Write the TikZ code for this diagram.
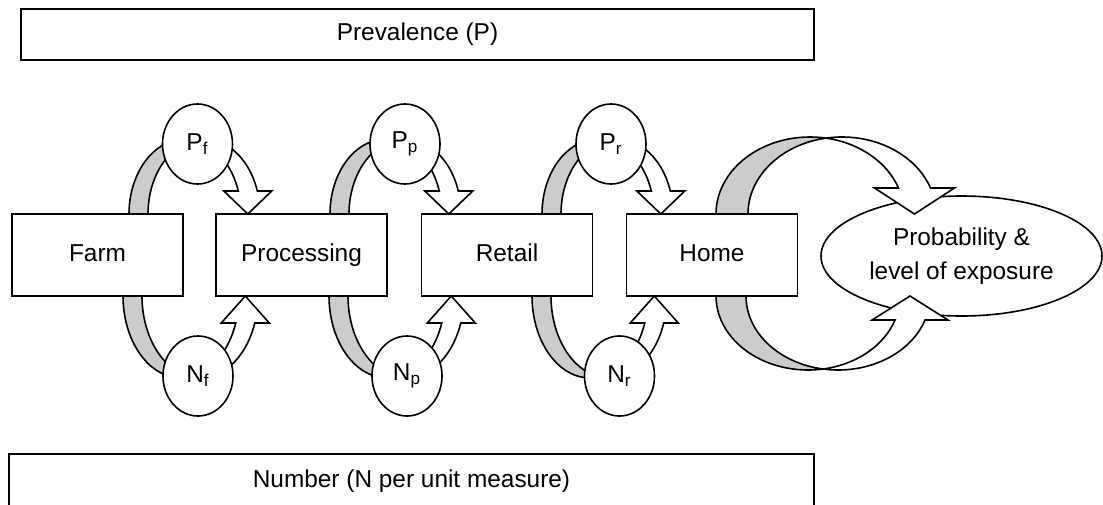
\documentclass[tikz,border=0pt]{standalone}
\usepackage{fontspec}
\setmainfont{Liberation Sans}
\usetikzlibrary{shapes.geometric}
\definecolor{bkgray}{RGB}{204,204,204}
% #1 left x, #2 base y, #3 direction (-1 up, 1 down), #4 rx, #5 ry, #6 band width, #7 head depth, #8 head half width
\newcommand\crescentarrow[8]{%
  \begin{scope}[shift={(#1,#2)}, yscale=#3]
    \pgfmathsetmacro\crA{acos(#6/(2*#4))}
    \pgfmathsetmacro\crB{180-\crA}
    \pgfmathsetmacro\crE{asin(#7/#5)}
    \pgfmathsetmacro\crM{#4+#6/2+#4*cos(\crE)}
    \pgfmathsetmacro\crY{#5*sin(\crA)}
    \path[backface] (0,0) arc[start angle=180, end angle=\crA, x radius=#4, y radius=#5]
      arc[start angle=\crB, end angle=180, x radius=#4, y radius=#5] -- cycle;
    \path[frontface] ({#4+#6/2},\crY) arc[start angle=\crA, end angle=\crE, x radius=#4, y radius=#5]
      -- ({\crM-#8},#7) -- (\crM,0) -- ({\crM+#8},#7) -- ({#4+#6+#4*cos(\crE)},#7)
      arc[start angle=\crE, end angle=\crB, x radius=#4, y radius=#5] -- cycle;
  \end{scope}}
\begin{document}
\begin{tikzpicture}[x=0.5pt, y=-0.5pt, line width=0.8pt,
  every node/.style={font=\fontsize{12.2}{14}\selectfont},
  wide/.style={draw, rectangle, inner sep=0pt, minimum height=25.5pt, text height=8.7pt, text depth=2.5pt},
  stage/.style={draw, rectangle, inner sep=0pt, minimum width=85.5pt, minimum height=41pt, text height=8.7pt, text depth=2.5pt},
  param/.style={draw, ellipse, fill=white, inner sep=0pt, minimum width=35pt, minimum height=40pt},
  backface/.style={draw, fill=bkgray, line join=round},
  frontface/.style={draw, fill=white, line join=miter}]
\useasboundingbox (0,0) rectangle (1103,504);
\node[wide, minimum width=396.5pt] (prev) at (417.5,34.5) {Prevalence (P)};
\node[wide, minimum width=402.5pt, minimum height=27pt] (num) at (411.5,481) {Number (N per unit measure)};
\node[stage] (farm) at (97.5,255) {Farm};
\node[stage] (proc) at (301.5,255) {Processing};
\node[stage] (retail) at (507,255) {Retail};
\node[stage] (home) at (712,255) {Home};
\node[draw, ellipse, inner sep=0pt, minimum width=140.5pt, minimum height=60pt, align=center,
  font=\fontsize{12.2}{17}\selectfont] (expo) at (961.5,256) {Probability \&\\level of exposure};
\crescentarrow{129}{214}{-1}{56}{75}{19}{23}{24}
\crescentarrow{330}{214}{-1}{56}{75}{19}{23}{24}
\crescentarrow{542}{214}{-1}{56}{75}{19}{23}{24}
\crescentarrow{123}{296}{1}{58}{82}{19}{27}{24}
\crescentarrow{329}{296}{1}{58}{82}{19}{27}{24}
\crescentarrow{532}{296}{1}{58}{82}{19}{27}{24}
\crescentarrow{716}{214}{-1}{94}{77}{32}{26}{40}
\crescentarrow{716}{296}{1}{92}{74}{30}{24}{38}
\node[param] (pf) at (197.5,144) {P\textsubscript{f}};
\node[param] (nf) at (198,376) {N\textsubscript{f}};
\node[param] (pp) at (405,144) {P\textsubscript{p}};
\node[param] (np) at (407,376) {N\textsubscript{p}};
\node[param] (pr) at (611,144) {P\textsubscript{r}};
\node[param] (nr) at (619.5,376) {N\textsubscript{r}};
\end{tikzpicture}
\end{document}
